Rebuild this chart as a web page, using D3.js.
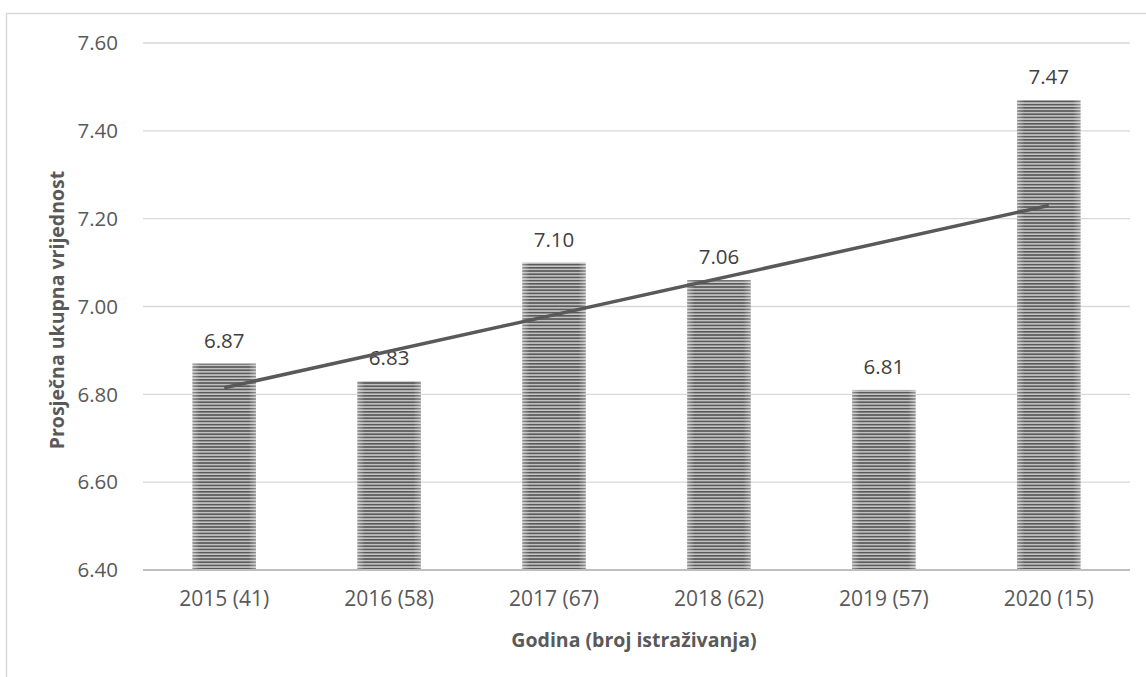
<!DOCTYPE html>
<html>
<head>
<meta charset="utf-8">
<script src="https://cdn.jsdelivr.net/npm/d3@7"></script>
<style>
  body { margin: 0; background: #fff; }
  text { font-family: "Open Sans", "Noto Sans", sans-serif; }
</style>
</head>
<body>
<div id="chart"></div>
<script>
const years = ["2015 (41)", "2016 (58)", "2017 (67)", "2018 (62)", "2019 (57)", "2020 (15)"];
const values = [6.87, 6.83, 7.10, 7.06, 6.81, 7.47];
const yTicks = [6.40, 6.60, 6.80, 7.00, 7.20, 7.40, 7.60];
// linear trend line, read at first and last category
const trendEnds = [6.815, 7.23];

const width = 1146;
const height = 677;
const margin = { top: 43, right: 16, bottom: 107, left: 143 };

const svg = d3.select("#chart")
    .append("svg")
    .attr("width", width)
    .attr("height", height);

// outer chart border (runs off the right and bottom of the picture)
svg.append("rect")
    .attr("x", 6.5)
    .attr("y", 13.5)
    .attr("width", width + 20)
    .attr("height", height + 20)
    .attr("fill", "none")
    .attr("stroke", "#d9d9d9")
    .attr("stroke-width", 1.5);

const defs = svg.append("defs");
const pat = defs.append("pattern")
    .attr("id", "stripes")
    .attr("patternUnits", "userSpaceOnUse")
    .attr("width", 8)
    .attr("height", 3.2);
pat.append("rect").attr("width", 8).attr("height", 3.2).attr("fill", "#c8c8c8");
pat.append("rect").attr("width", 8).attr("height", 1.7).attr("fill", "#5a5a5a");

const shade = defs.append("linearGradient").attr("id", "shade");
shade.append("stop").attr("offset", "0%").attr("stop-color", "#fff").attr("stop-opacity", 0.35);
shade.append("stop").attr("offset", "12%").attr("stop-color", "#fff").attr("stop-opacity", 0);
shade.append("stop").attr("offset", "88%").attr("stop-color", "#fff").attr("stop-opacity", 0);
shade.append("stop").attr("offset", "100%").attr("stop-color", "#fff").attr("stop-opacity", 0.35);

const g = svg.append("g")
    .attr("transform", `translate(${margin.left},${margin.top})`);

const innerW = width - margin.left - margin.right;
const innerH = height - margin.top - margin.bottom;

const x = d3.scaleBand()
    .domain(years)
    .range([0, innerW])
    .paddingInner(0.615)
    .paddingOuter(0.3);

const y = d3.scaleLinear()
    .domain([6.40, 7.60])
    .range([innerH, 0]);

// gridlines
g.append("g")
    .selectAll("line")
    .data(yTicks.slice(1))
    .enter().append("line")
    .attr("x1", 0)
    .attr("x2", innerW)
    .attr("y1", d => y(d))
    .attr("y2", d => y(d))
    .attr("stroke", "#d9d9d9")
    .attr("stroke-width", 1.3);

// y tick labels
g.append("g")
    .selectAll("text")
    .data(yTicks)
    .enter().append("text")
    .attr("x", -25)
    .attr("y", d => y(d))
    .attr("dy", "0.35em")
    .attr("text-anchor", "end")
    .attr("fill", "#595959")
    .style("font-size", "20.5px")
    .text(d => d.toFixed(2));

// bars
const bars = g.append("g")
    .selectAll("g")
    .data(values)
    .enter().append("g");

bars.append("rect")
    .attr("x", (d, i) => x(years[i]))
    .attr("y", d => y(d))
    .attr("width", x.bandwidth())
    .attr("height", d => innerH - y(d))
    .attr("fill", "url(#stripes)");

bars.append("rect")
    .attr("x", (d, i) => x(years[i]))
    .attr("y", d => y(d))
    .attr("width", x.bandwidth())
    .attr("height", d => innerH - y(d))
    .attr("fill", "url(#shade)");

// value labels
g.append("g")
    .selectAll("text")
    .data(values)
    .enter().append("text")
    .attr("x", (d, i) => x(years[i]) + x.bandwidth() / 2)
    .attr("y", d => y(d) - 16)
    .attr("text-anchor", "middle")
    .attr("fill", "#404040")
    .style("font-size", "20.5px")
    .text(d => d.toFixed(2));

// x axis baseline
g.append("line")
    .attr("x1", 0)
    .attr("x2", innerW)
    .attr("y1", innerH)
    .attr("y2", innerH)
    .attr("stroke", "#bfbfbf")
    .attr("stroke-width", 2);

// x tick labels
g.append("g")
    .selectAll("text")
    .data(years)
    .enter().append("text")
    .attr("x", d => x(d) + x.bandwidth() / 2)
    .attr("y", innerH + 36)
    .attr("text-anchor", "middle")
    .attr("fill", "#595959")
    .style("font-size", "21px")
    .text(d => d);

// trend line
const first = years[0], last = years[years.length - 1];
g.append("line")
    .attr("x1", x(first) + x.bandwidth() / 2)
    .attr("x2", x(last) + x.bandwidth() / 2)
    .attr("y1", y(trendEnds[0]))
    .attr("y2", y(trendEnds[1]))
    .attr("stroke", "#595959")
    .attr("stroke-width", 3.5);

// axis titles
svg.append("text")
    .attr("x", 634)
    .attr("y", 647)
    .attr("text-anchor", "middle")
    .attr("fill", "#595959")
    .style("font-size", "19.5px")
    .style("font-weight", "bold")
    .text("Godina (broj istraživanja)");

svg.append("text")
    .attr("transform", "translate(64,310) rotate(-90)")
    .attr("text-anchor", "middle")
    .attr("fill", "#595959")
    .style("font-size", "19.5px")
    .style("font-weight", "bold")
    .text("Prosječna ukupna vrijednost");
</script>
</body>
</html>
